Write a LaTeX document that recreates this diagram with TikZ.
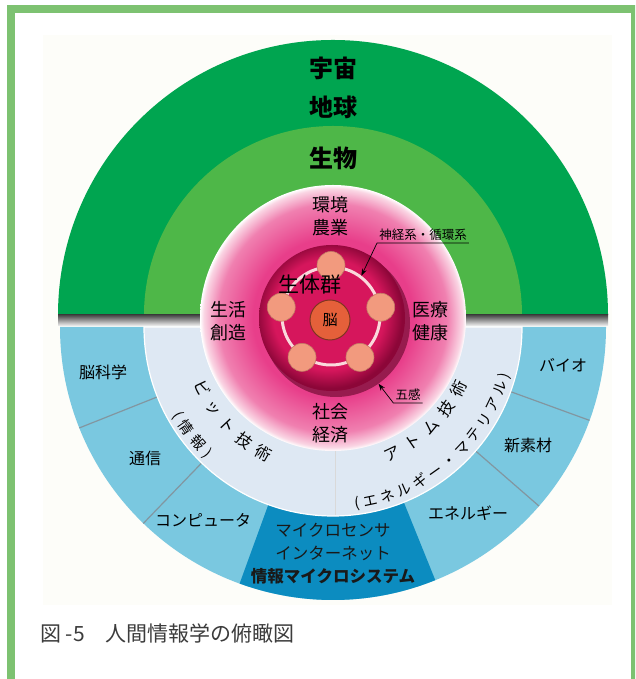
\documentclass[tikz,border=0pt]{standalone}
\usepackage{fontspec}
\setmainfont{Noto Sans CJK JP}
\usetikzlibrary{calc, arrows, arrows.meta, positioning, decorations.text}

\definecolor{framegreen}{RGB}{125,194,113}
\definecolor{paper}{RGB}{253,253,249}
\definecolor{cosmos}{RGB}{0,165,80}
\definecolor{bio}{RGB}{78,183,72}
\definecolor{ringblue}{RGB}{122,200,224}
\definecolor{microblue}{RGB}{12,140,192}
\definecolor{techpale}{RGB}{222,232,243}
\definecolor{divgray}{RGB}{130,150,160}
\definecolor{glowcore}{RGB}{232,62,138}
\definecolor{glowmid}{RGB}{240,128,176}
\definecolor{glowedge}{RGB}{250,214,228}
\definecolor{discin}{RGB}{214,22,92}
\definecolor{discrim}{RGB}{140,6,56}
\definecolor{organ}{RGB}{242,154,126}
\definecolor{brain}{RGB}{229,96,58}
\definecolor{nerve}{RGB}{250,217,220}
\definecolor{captiongray}{RGB}{60,60,60}

\pgfdeclareradialshading{pinkglow}{\pgfpoint{0bp}{0bp}}{color(0bp)=(glowcore); color(15bp)=(glowcore); color(21.5bp)=(glowmid); color(24.3bp)=(glowedge); color(25bp)=(white); color(50bp)=(white)}
\pgfdeclareradialshading{discfill}{\pgfpoint{-2bp}{2bp}}{color(0bp)=(discin); color(19bp)=(discin); color(25bp)=(discrim); color(50bp)=(discrim)}

\begin{document}
\begin{tikzpicture}[x=1pt, y=1pt, >={Stealth[length=7pt, width=5pt]},
	realm/.style={font=\fontsize{24}{28}\selectfont\bfseries},
	zone/.style={font=\fontsize{18}{23}\selectfont, align=center},
	field/.style={font=\fontsize{16}{20}\selectfont, text=black},
	micro/.style={font=\fontsize{16.5}{20}\selectfont, text=black!90},
	note/.style={font=\fontsize{12.5}{14}\selectfont, inner sep=2pt},
	pointer/.style={->, line width=0.7pt},
	organ dot/.style={circle, minimum size=28pt, fill=organ, draw=organ!80!black, line width=0.6pt},
	arctext/.style={decorate, decoration={text along path, text align={fit to path}}}
]

\useasboundingbox (0,0) rectangle (635,679);
\clip (0,0) rectangle (635,679);

% frame
\fill[paper] (43,74) rectangle (612,644);
\draw[framegreen, line width=8pt] (11,-10) rectangle (635,670);

% upper half
\coordinate (up) at (333,364);
\coordinate (low) at (333,352);
\fill[cosmos] (up) ++(180:275) arc[start angle=180, end angle=0, radius=275] -- cycle;
\fill[bio] (up) ++(180:189) arc[start angle=180, end angle=0, radius=189] -- cycle;
\shade[top color=black!72, bottom color=black!4] (58,364) rectangle (608,353);

% lower half
\fill[ringblue] (low) ++(180:273) arc[start angle=180, end angle=360, radius=273] -- cycle;
\fill[microblue] (low) -- ++(250:273) arc[start angle=250, end angle=292, radius=273] -- cycle;
\foreach \a in {201.7, 226, 319, 340}
	\draw[divgray, line width=1.2pt] (low) ++(\a:189) -- ++(\a:84);
\filldraw[fill=techpale, draw=white, line width=1.2pt] (low) ++(180:189) arc[start angle=180, end angle=360, radius=189] -- cycle;
\draw[black!15, line width=1pt] (335,228) -- (335,164);

% body
\node[circle, minimum size=266pt, shade, shading=pinkglow] (glow) at (333,361) {};
\node[circle, minimum size=148pt, fill=discrim!70!black, opacity=0.6] (discshade) at (336,356) {};
\node[circle, minimum size=146pt, shade, shading=discfill] (disc) at (332,361) {};
\node[circle, minimum size=98pt, draw=nerve, line width=3pt] (ring) at (331,363) {};

\node[organ dot] (org-top) at (ring.90) {};
\node[organ dot] (org-left) at (ring.170) {};
\node[organ dot] (org-right) at (ring.10) {};
\node[organ dot] (org-bl) at (ring.235) {};
\node[organ dot] (org-br) at (ring.305) {};
\node[circle, minimum size=40pt, inner sep=0pt, fill=brain, draw=brain!55!black, line width=1pt, font=\fontsize{15}{18}\selectfont] (brain) at (330,359) {脳};
\node[font=\fontsize{21}{24}\selectfont] (bodies) at (310,394) {生体群};

% labels
\node[realm] (space) at (333,611) {宇宙};
\node[realm] (earth) at (333,572) {地球};
\node[realm] (life) at (333,521) {生物};

\node[zone] (env) at (330,463) {環境\\農業};
\node[zone] (living) at (228,358) {生活\\創造};
\node[zone] (health) at (430,358) {医療\\健康};
\node[zone] (society) at (330,256) {社会\\経済};

\node[field] (neuro) at (103,307) {脳科学};
\node[field] (comm) at (145,221) {通信};
\node[field] (computer) at (203,159) {コンピュータ};
\node[field] (biotech) at (563,314) {バイオ};
\node[field] (material) at (528,234) {新素材};
\node[field] (energy) at (468,166) {エネルギー};

\node[micro] (sensor) at (333,149) {マイクロセンサ};
\node[micro] (internet) at (333,126) {インターネット};
\node[micro, font=\fontsize{16.5}{20}\selectfont\bfseries] (microsys) at (333,103) {情報マイクロシステム};

\path[arctext, decoration={text={|\fontsize{16}{19}\selectfont|ビット技術}}] (low) ++(202:150) arc[start angle=202, end angle=244, radius=150];
\path[arctext, decoration={text={|\fontsize{14.5}{18}\selectfont|(情報)}}] (low) ++(209:183) arc[start angle=209, end angle=226, radius=183];
\path[arctext, decoration={text={|\fontsize{16}{19}\selectfont|アトム技術}}] (low) ++(292:146) arc[start angle=292, end angle=337, radius=146];
\path[arctext, decoration={text={|\fontsize{14.5}{18}\selectfont|(エネルギー・マテリアル)}}] (low) ++(277:183) arc[start angle=277, end angle=345, radius=183];

% pointers
\node[note] (nerve-lbl) at (423,444) {神経系・循環系};
\draw[pointer] (nerve-lbl.south east) -- (nerve-lbl.south west) -- (ring.53);
\node[note] (senses) at (408,284) {五感};
\draw[pointer] (senses.south east) -- (senses.south west) -- (discshade.-55);

\node[anchor=west, inner sep=0pt, font=\fontsize{21}{24}\selectfont, text=captiongray] (caption) at (40,46) {図 -5　人間情報学の俯瞰図};

\end{tikzpicture}
\end{document}
